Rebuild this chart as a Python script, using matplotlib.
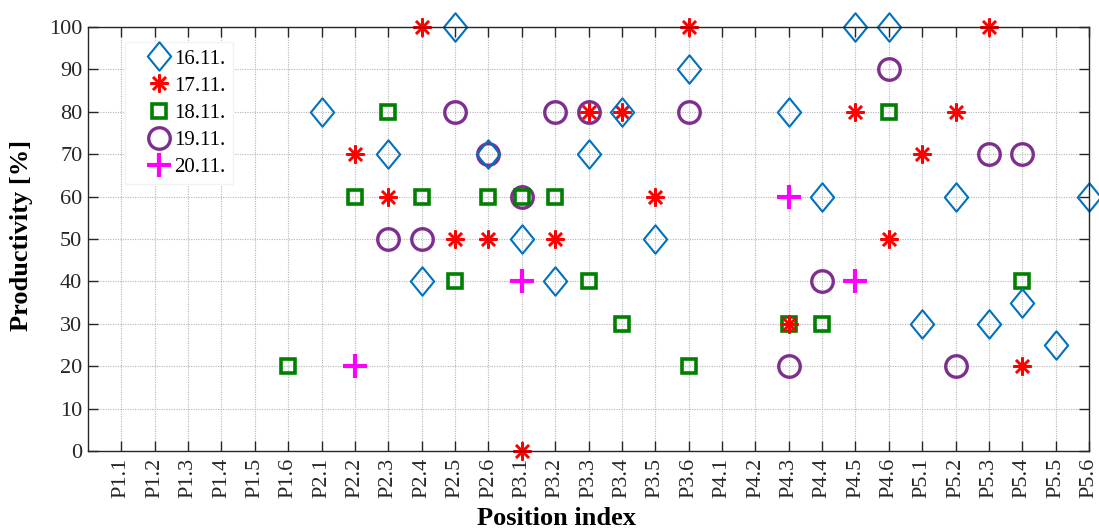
import numpy as np
import matplotlib
matplotlib.use('Agg')
import matplotlib.pyplot as plt
import matplotlib as mpl
from matplotlib.path import Path

#==============#
# plot options #
#==============#
mpl.rcParams['font.family'] = 'serif'
mpl.rcParams['font.serif'] = ['Liberation Serif', 'DejaVu Serif']
mpl.rcParams['font.size'] = 16
mpl.rcParams['axes.linewidth'] = 1.0

#======#
# data #
#======#
positions = ['P1.1', 'P1.2', 'P1.3', 'P1.4', 'P1.5', 'P1.6',
             'P2.1', 'P2.2', 'P2.3', 'P2.4', 'P2.5', 'P2.6',
             'P3.1', 'P3.2', 'P3.3', 'P3.4', 'P3.5', 'P3.6',
             'P4.1', 'P4.2', 'P4.3', 'P4.4', 'P4.5', 'P4.6',
             'P5.1', 'P5.2', 'P5.3', 'P5.4', 'P5.5', 'P5.6']

# (position label, productivity %) per day
day16_pos = ['P2.1', 'P2.3', 'P2.4', 'P2.5', 'P2.6', 'P3.1', 'P3.2', 'P3.3',
             'P3.4', 'P3.5', 'P3.6', 'P4.3', 'P4.4', 'P4.5', 'P4.6', 'P5.1',
             'P5.2', 'P5.3', 'P5.4', 'P5.5', 'P5.6']
day16_val = [80, 70, 40, 100, 70, 50, 40, 70, 80, 50, 90, 80, 60, 100, 100,
             30, 60, 30, 35, 25, 60]

day17_pos = ['P2.2', 'P2.3', 'P2.4', 'P2.5', 'P2.6', 'P3.1', 'P3.2', 'P3.3',
             'P3.4', 'P3.5', 'P3.6', 'P4.3', 'P4.5', 'P4.6', 'P5.1', 'P5.2',
             'P5.3', 'P5.4']
day17_val = [70, 60, 100, 50, 50, 0, 50, 80, 80, 60, 100, 30, 80, 50, 70, 80,
             100, 20]

day18_pos = ['P1.6', 'P2.2', 'P2.3', 'P2.4', 'P2.5', 'P2.6', 'P3.1', 'P3.2',
             'P3.3', 'P3.4', 'P3.6', 'P4.3', 'P4.4', 'P4.6', 'P5.4']
day18_val = [20, 60, 80, 60, 40, 60, 60, 60, 40, 30, 20, 30, 30, 80, 40]

day19_pos = ['P2.3', 'P2.4', 'P2.5', 'P2.6', 'P3.1', 'P3.2', 'P3.3', 'P3.6',
             'P4.3', 'P4.4', 'P4.6', 'P5.2', 'P5.3', 'P5.4']
day19_val = [50, 50, 80, 70, 60, 80, 80, 80, 20, 40, 90, 20, 70, 70]

day20_pos = ['P2.2', 'P3.1', 'P4.3', 'P4.5']
day20_val = [20, 40, 60, 40]

def idx(labels):
    return np.array([positions.index(p) + 1 for p in labels])

fig = plt.figure(figsize=(10.99, 5.31), dpi=100)
ax = fig.add_axes([0.080, 0.1507, 0.911, 0.7985])

# matlab style markers
diamond = Path([(0, 1), (0.82, 0), (0, -1), (-0.82, 0), (0, 1)],
               [Path.MOVETO, Path.LINETO, Path.LINETO, Path.LINETO,
                Path.CLOSEPOLY])
asterisk = (8, 2, 0)

ax.plot(idx(day16_pos), day16_val, linestyle='none', marker=diamond, ms=20.5,
        mfc='none', mec='#0072BD', mew=1.5, label='16.11.', clip_on=False,
        zorder=7)
ax.plot(idx(day17_pos), day17_val, linestyle='none', marker=asterisk, ms=13,
        mec='#FF0000', color='#FF0000', mew=1.8, label='17.11.', clip_on=False,
        zorder=6)
ax.plot(idx(day18_pos), day18_val, linestyle='none', marker='s', ms=9.5,
        mfc='none', mec='#008000', mew=2.6, label='18.11.', clip_on=False,
        zorder=5)
ax.plot(idx(day19_pos), day19_val, linestyle='none', marker='o', ms=15.5,
        mfc='none', mec='#7E2F8E', mew=2.4, label='19.11.', clip_on=False,
        zorder=4)
ax.plot(idx(day20_pos), day20_val, linestyle='none', marker='+', ms=17,
        mec='#FF00FF', color='#FF00FF', mew=3, label='20.11.', clip_on=False,
        zorder=3)

#============#
# Formatting #
#============#
ax.set_xlim(0, len(positions))
ax.set_ylim(0, 100)
ax.set_xticks(np.arange(1, len(positions) + 1))
ax.set_xticklabels(positions, rotation=90)
ax.set_yticks(np.arange(0, 101, 10))
ax.tick_params(axis='both', which='both', direction='in', top=True,
               right=True, length=7, width=1, colors='#262626',
               labelsize=16, labelcolor='#262626')
ax.tick_params(axis='x', pad=5)
ax.tick_params(axis='y', pad=4)
for s in ax.spines.values():
    s.set_color('#262626')
    s.set_zorder(8)

ax.grid(True, linestyle=(0, (1, 1.2)), color='#b5b5b5', linewidth=0.8)
ax.set_axisbelow(True)

ax.set_xlabel('Position index', fontweight='bold', fontsize=19, va='center')
ax.xaxis.set_label_coords(0.4685, -0.160)
ax.set_ylabel('Productivity [%]', fontweight='bold', fontsize=19, va='center')
ax.yaxis.set_label_coords(-0.066, 0.509)

leg = ax.legend(loc='upper left', bbox_to_anchor=(0.037, 0.965),
                frameon=True, fancybox=False, edgecolor='#f2f2f2',
                framealpha=1, fontsize=15, handlelength=2.6,
                handletextpad=-0.6, borderpad=0.35, labelspacing=0.36,
                borderaxespad=0)
leg.set_zorder(10)

fig.savefig('out.png', dpi=100)
